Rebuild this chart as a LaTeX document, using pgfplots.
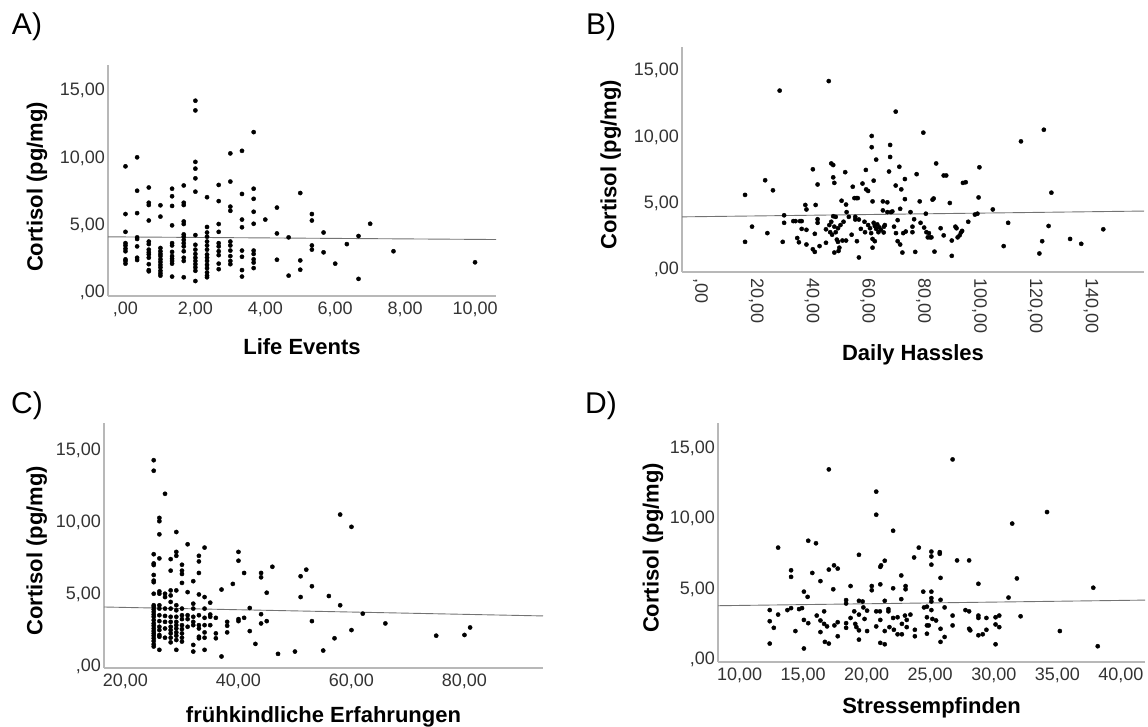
\documentclass[border=0pt]{standalone}
\usepackage{fontspec}
\setmainfont{Liberation Sans}
\usepackage{pgfplots}
\pgfplotsset{compat=1.18}
\pgfplotsset{
  spss/.style={
    scale only axis,
    anchor=south west,
    axis x line*=bottom, axis y line*=left,
    every outer x axis line/.append style={-},
    every outer y axis line/.append style={-},
    axis line style={-, draw=black!28, line width=1.3pt},
    major tick length=0pt,
    tick style={draw=none},
    ytick={0,5,10,15},
    yticklabels={{,00},{5,00},{10,00},{15,00}},
    tick label style={font=\fontsize{18}{21}\selectfont, text=black!80},
    yticklabel style={anchor=east, inner sep=0pt, xshift=-3pt},
    xticklabel style={anchor=north, inner sep=0pt, yshift=-6pt},
    label style={font=\bfseries\fontsize{22}{26}\selectfont},
    clip=false,
  },
  dots/.style={only marks, mark=*, mark size=2.1pt, black},
  fitline/.style={no marks, black!55, line width=0.9pt},
}
\begin{document}
\begin{tikzpicture}
\path[use as bounding box] (0,0) rectangle (1148pt,727pt);
\node[font=\fontsize{30}{36}\selectfont] at (27pt,700pt) {A)};
\node[font=\fontsize{30}{36}\selectfont] at (601pt,700pt) {B)};
\node[font=\fontsize{30}{36}\selectfont] at (27pt,321pt) {C)};
\node[font=\fontsize{30}{36}\selectfont] at (601pt,321pt) {D)};

% ---------------- A ----------------
\begin{axis}[spss, at={(108pt,431pt)}, width=388pt, height=231pt,
  xmin=-0.5, xmax=10.6, ymin=-0.24, ymax=16.9,
  xtick={0,2,4,6,8,10},
  xticklabels={{,00},{2,00},{4,00},{6,00},{8,00},{10,00}},
  xlabel={Life Events}, ylabel={Cortisol (pg/mg)},
  xlabel style={at={(axis description cs:0.5,-0.221)}, anchor=center},
  ylabel style={at={(axis description cs:-0.183,0.472)}, anchor=center}]
\addplot[dots] table {
0 9.38
0 5.84
0 4.52
0 3.68
0 3.51
0 3.27
0 3.08
0 2.48
0 2.36
0 2.16
0.333 10.05
0.333 7.57
0.333 5.91
0.333 4.11
0.333 3.99
0.333 3.44
0.333 2.60
0.333 2.43
0.667 7.81
0.667 6.68
0.667 6.51
0.667 5.36
0.667 3.80
0.667 3.61
0.667 3.20
0.667 3.00
0.667 2.84
0.667 2.60
0.667 2.12
0.667 1.68
0.667 1.59
1 6.49
1 5.65
1 3.32
1 3.08
1 2.88
1 2.72
1 2.48
1 2.28
1 2.07
1 1.88
1 1.63
1 1.44
1 1.27
1.333 7.72
1.333 7.16
1.333 6.44
1.333 5.00
1.333 3.68
1.333 3.51
1.333 3.03
1.333 2.72
1.333 2.52
1.333 2.36
1.333 2.16
1.333 1.20
1.667 7.96
1.667 6.68
1.667 6.51
1.667 5.29
1.667 5.10
1.667 4.33
1.667 4.16
1.667 3.92
1.667 3.68
1.667 3.44
1.667 3.08
1.667 2.60
1.667 2.36
1.667 1.15
2 14.25
2 13.53
2 9.71
2 9.21
2 8.49
2 7.50
2 4.28
2 3.56
2 3.20
2 2.88
2 2.60
2 2.36
2 2.12
2 1.88
2 1.63
2 0.87
2.333 7.09
2.333 4.88
2.333 4.47
2.333 4.16
2.333 3.80
2.333 3.51
2.333 3.20
2.333 2.84
2.333 2.60
2.333 2.36
2.333 2.07
2.333 1.83
2.333 1.51
2.333 1.27
2.333 1.15
2.667 8.00
2.667 6.80
2.667 5.10
2.667 4.52
2.667 3.68
2.667 3.44
2.667 3.08
2.667 2.79
2.667 2.16
2.667 1.75
3 10.34
3 8.25
3 6.39
3 6.08
3 3.80
3 3.51
3 3.13
3 2.72
3 2.36
3 2.12
3.333 10.53
3.333 7.33
3.333 5.43
3.333 4.86
3.333 3.13
3.333 2.67
3.333 1.68
3.333 1.20
3.667 11.92
3.667 7.72
3.667 6.97
3.667 6.01
3.667 5.12
3.667 3.13
3.667 2.88
3.667 2.48
3.667 2.24
3.667 1.83
4 5.43
4.333 6.32
4.333 4.40
4.333 2.45
4.667 4.11
4.667 1.27
5 7.40
5 2.40
5 1.71
5.333 5.84
5.333 5.36
5.333 3.51
5.333 3.20
5.667 4.47
5.667 3.00
6 2.16
6.333 3.61
6.667 4.21
6.667 1.03
7 5.12
7.667 3.08
10 2.26
};
\addplot[fitline] coordinates {(-0.5,4.15) (10.6,3.95)};
\end{axis}

% ---------------- B ----------------
\begin{axis}[spss, at={(682pt,455pt)}, width=462pt, height=225pt,
  xmin=-6.6, xmax=159, ymin=-0.22, ymax=16.8,
  xtick={0,20,40,60,80,100,120,140},
  xticklabels={{,00},{20,00},{40,00},{60,00},{80,00},{100,00},{120,00},{140,00}},
  xticklabel style={rotate=-90, anchor=west, inner sep=0pt, yshift=0pt, xshift=0pt},
  xlabel={Daily Hassles}, ylabel={Cortisol (pg/mg)},
  xlabel style={at={(axis description cs:0.5,-0.369)}, anchor=center},
  ylabel style={at={(axis description cs:-0.154,0.476)}, anchor=center}]
\addplot[dots] table {
16.0 5.61
16.0 2.06
18.5 3.21
23.2 6.72
24.0 2.72
26.0 5.96
28.4 13.50
29.5 2.06
30.0 4.07
30.0 3.50
33.3 3.63
34.1 3.63
34.7 2.35
35.3 2.03
35.7 3.63
36.3 3.63
37.6 4.85
38.0 4.51
36.3 3.04
38.0 2.97
38.0 1.86
40.3 7.55
40.3 1.50
41.0 1.30
41.0 2.67
41.3 4.85
42.0 6.40
42.0 3.77
42.0 3.50
42.7 1.74
45.0 3.01
45.0 1.99
46.0 14.22
46.2 3.33
46.5 2.79
46.9 7.99
47.6 7.87
47.6 6.94
47.6 4.00
48.0 6.52
46.9 3.58
47.2 2.60
48.0 3.21
48.5 3.95
48.5 2.79
48.9 2.23
49.3 3.09
49.3 2.06
48.0 1.25
49.5 1.37
49.8 1.62
50.2 3.33
50.6 5.17
50.9 2.16
51.3 3.58
51.9 7.33
52.2 4.88
52.2 2.16
52.4 4.31
53.2 3.95
54.2 2.60
54.6 6.23
55.2 5.37
55.9 5.37
56.4 5.37
55.5 3.95
55.5 3.75
56.1 2.11
56.8 3.75
57.5 3.04
58.1 6.47
58.8 3.58
59.0 2.79
59.3 7.50
59.4 6.03
60.1 5.91
60.1 3.33
60.8 3.09
61.2 2.72
61.4 10.07
61.4 9.22
61.7 5.12
61.7 2.28
61.7 1.62
62.1 6.69
62.1 3.50
62.5 3.26
62.5 2.11
63.0 8.28
63.0 3.04
63.4 3.38
63.8 2.79
64.1 3.16
64.7 2.97
65.4 5.12
65.4 4.44
65.7 2.77
65.8 3.21
66.1 3.33
67.0 5.05
67.0 4.31
67.6 7.38
68.0 9.39
68.0 8.48
68.3 4.31
68.8 4.36
69.4 3.21
70.0 11.91
70.0 6.32
70.1 2.72
70.7 3.70
70.7 2.11
71.3 7.74
71.6 4.56
71.6 1.86
72.0 6.03
72.4 1.25
72.7 2.72
73.3 6.81
73.3 5.29
73.6 2.84
75.3 4.31
76.0 3.21
76.0 2.79
76.6 3.77
77.0 1.30
77.5 7.18
78.6 5.12
78.9 3.50
79.9 10.32
80.2 3.14
80.8 4.19
81.0 2.79
81.5 2.40
81.9 2.72
82.3 2.40
82.8 2.40
83.2 5.25
83.6 5.34
83.9 1.32
84.5 7.99
86.1 3.09
87.2 7.08
88.1 7.08
87.2 2.55
89.4 5.00
90.1 2.16
90.1 1.00
91.4 3.21
91.8 3.09
92.2 2.40
92.9 2.55
93.4 2.77
93.8 2.89
94.1 6.52
95.1 6.57
96.0 3.58
98.4 4.12
99.3 4.19
99.7 5.42
100.0 7.70
104.8 4.51
108.7 1.74
110.3 3.50
114.9 9.66
121.5 1.18
122.5 2.11
123.1 10.54
124.8 3.26
125.8 5.78
132.5 2.28
136.5 1.91
144.4 3.01
56.8 0.88
};
\addplot[fitline] coordinates {(-6.6,3.95) (159,4.39)};
\end{axis}

% ---------------- C ----------------
\begin{axis}[spss, at={(104pt,59pt)}, width=439pt, height=245pt,
  xmin=16.2, xmax=93.9, ymin=-0.09, ymax=16.9,
  xtick={20,40,60,80},
  xticklabels={{20,00},{40,00},{60,00},{80,00}},
  xlabel={frühkindliche Erfahrungen}, ylabel={Cortisol (pg/mg)},
  xlabel style={at={(axis description cs:0.5,-0.2)}, anchor=center},
  ylabel style={at={(axis description cs:-0.153,0.478)}, anchor=center}]
\addplot[dots] table {
25 14.32
25 13.59
25 7.80
25 7.16
25 7.05
25 6.36
25 5.97
25 5.86
25 5.06
25 4.26
25 4.14
25 3.98
25 3.80
25 3.62
25 3.46
25 3.23
25 3.00
25 2.84
25 2.65
25 2.47
25 2.31
25 2.15
25 1.97
25 1.78
25 1.56
25 1.40
26 10.32
26 10.09
26 9.18
26 7.51
26 5.22
26 5.06
26 4.26
26 4.03
26 3.57
26 3.16
26 2.77
26 2.54
26 2.20
26 2.08
26 1.17
27 11.99
27 5.06
27 4.83
27 4.03
27 3.52
27 3.11
27 2.65
27 2.01
28 7.46
28 6.66
28 5.29
28 4.94
28 4.49
28 4.03
28 3.46
28 3.11
28 2.77
28 2.54
28 2.31
28 2.01
28 1.69
29 9.34
29 7.96
29 7.69
29 5.29
29 4.26
29 3.91
29 3.46
29 3.11
29 2.88
29 2.65
29 2.38
29 2.15
29 1.85
29 1.17
30 7.07
30 6.66
30 6.43
30 5.81
30 4.03
30 3.57
30 3.30
30 2.88
30 2.61
30 2.31
30 2.01
30 1.74
31 8.49
31 5.17
31 3.57
31 3.30
31 2.77
32 5.93
32 4.37
32 4.03
32 3.46
32 3.11
32 2.88
32 1.51
32 1.05
33 7.69
33 7.30
33 6.50
33 5.01
33 3.57
33 2.88
33 2.65
33 2.08
33 1.97
34 8.26
34 4.83
34 4.03
34 3.39
34 2.88
34 2.38
34 2.01
34 1.17
35 4.44
35 3.62
35 3.46
35 2.88
36 3.39
36 2.31
36 1.97
37 5.35
37 0.71
38 3.11
38 2.84
38 2.38
39 5.74
40 7.96
40 7.35
40 3.30
40 3.16
41 6.50
41 3.39
42 4.07
42 2.47
43 1.58
44 6.50
44 6.20
44 3.64
44 3.00
45 5.13
45 3.16
46 6.93
47 0.89
50 1.05
51 6.27
51 4.83
52 6.73
53 5.58
53 3.16
55 1.12
56 4.90
57 1.97
58 10.55
58 4.26
60 9.70
60 2.54
62 3.68
66 3.00
75 2.15
80 2.20
81 2.72
};
\addplot[fitline] coordinates {(16.2,4.14) (93.9,3.52)};
\end{axis}

% ---------------- D ----------------
\begin{axis}[spss, at={(718pt,65pt)}, width=427pt, height=239pt,
  xmin=8.3, xmax=41.9, ymin=-0.19, ymax=16.8,
  xtick={10,15,20,25,30,35,40},
  xticklabels={{10,00},{15,00},{20,00},{25,00},{30,00},{35,00},{40,00}},
  xlabel={Stressempfinden}, ylabel={Cortisol (pg/mg)},
  xlabel style={at={(axis description cs:0.5,-0.192)}, anchor=center},
  ylabel style={at={(axis description cs:-0.152,0.477)}, anchor=center}]
\addplot[dots] table {
12.37 3.50
12.37 2.71
12.37 1.12
12.69 2.24
13.03 7.94
13.03 3.18
13.76 3.50
14.05 6.33
14.05 5.86
14.05 3.64
14.39 2.01
14.68 3.57
14.91 3.64
15.06 4.81
15.06 2.80
15.06 0.77
15.35 4.44
15.40 8.43
15.40 2.57
15.72 6.14
16.01 8.25
16.07 3.11
16.36 5.56
16.36 2.76
16.36 1.94
16.65 3.41
16.65 2.52
16.71 1.24
16.88 2.34
17.02 6.38
17.02 13.50
17.02 1.12
17.37 4.98
17.43 6.68
17.46 2.41
17.72 6.45
17.72 2.64
17.72 1.64
18.38 4.21
18.38 3.97
18.38 2.57
18.38 2.24
18.73 5.21
18.73 2.94
19.02 3.41
19.10 2.52
19.19 2.29
19.39 7.43
19.39 4.16
19.39 3.18
19.39 2.06
19.39 1.40
19.68 4.11
19.74 3.69
19.83 2.87
20.03 3.46
20.03 2.01
20.40 5.21
20.40 4.91
20.75 11.92
20.75 10.28
20.75 3.41
20.75 2.34
21.04 3.41
21.07 6.57
21.07 5.33
21.07 2.80
21.07 1.17
21.13 6.68
21.42 7.01
21.42 4.16
21.42 2.01
21.42 1.07
21.71 3.57
21.71 3.41
21.79 2.29
22.08 9.14
22.08 5.05
22.08 2.94
22.14 2.10
22.43 2.99
22.43 1.78
22.72 5.96
22.72 4.28
22.77 2.52
22.77 1.78
23.01 3.11
23.06 5.21
23.06 4.98
23.15 2.80
23.15 2.29
23.44 3.18
23.73 7.24
23.79 2.10
23.79 1.64
24.10 7.94
24.45 4.81
24.51 3.69
24.74 3.74
24.74 2.99
24.74 2.41
24.74 1.82
24.88 2.41
25.09 7.66
25.09 7.31
25.09 6.73
25.09 4.81
25.09 4.35
25.09 4.11
25.09 3.50
25.17 2.87
25.46 2.76
25.75 7.62
25.75 7.50
25.81 5.79
25.81 4.23
25.81 2.17
25.81 1.24
26.13 3.69
26.13 1.59
26.76 14.21
26.76 3.11
26.76 2.41
27.11 7.03
27.77 3.50
28.06 7.03
28.06 3.41
28.06 2.17
28.15 2.06
28.79 5.37
28.79 3.11
28.79 2.94
28.79 1.71
29.13 1.78
29.42 2.94
29.42 2.10
30.14 2.99
30.14 2.48
30.14 1.07
30.43 3.11
30.43 2.29
31.16 4.39
31.45 9.65
31.82 5.75
32.11 3.06
34.19 10.47
35.20 2.01
37.83 5.09
38.18 0.93
};
\addplot[fitline] coordinates {(8.3,3.81) (41.9,4.21)};
\end{axis}
\end{tikzpicture}
\end{document}
